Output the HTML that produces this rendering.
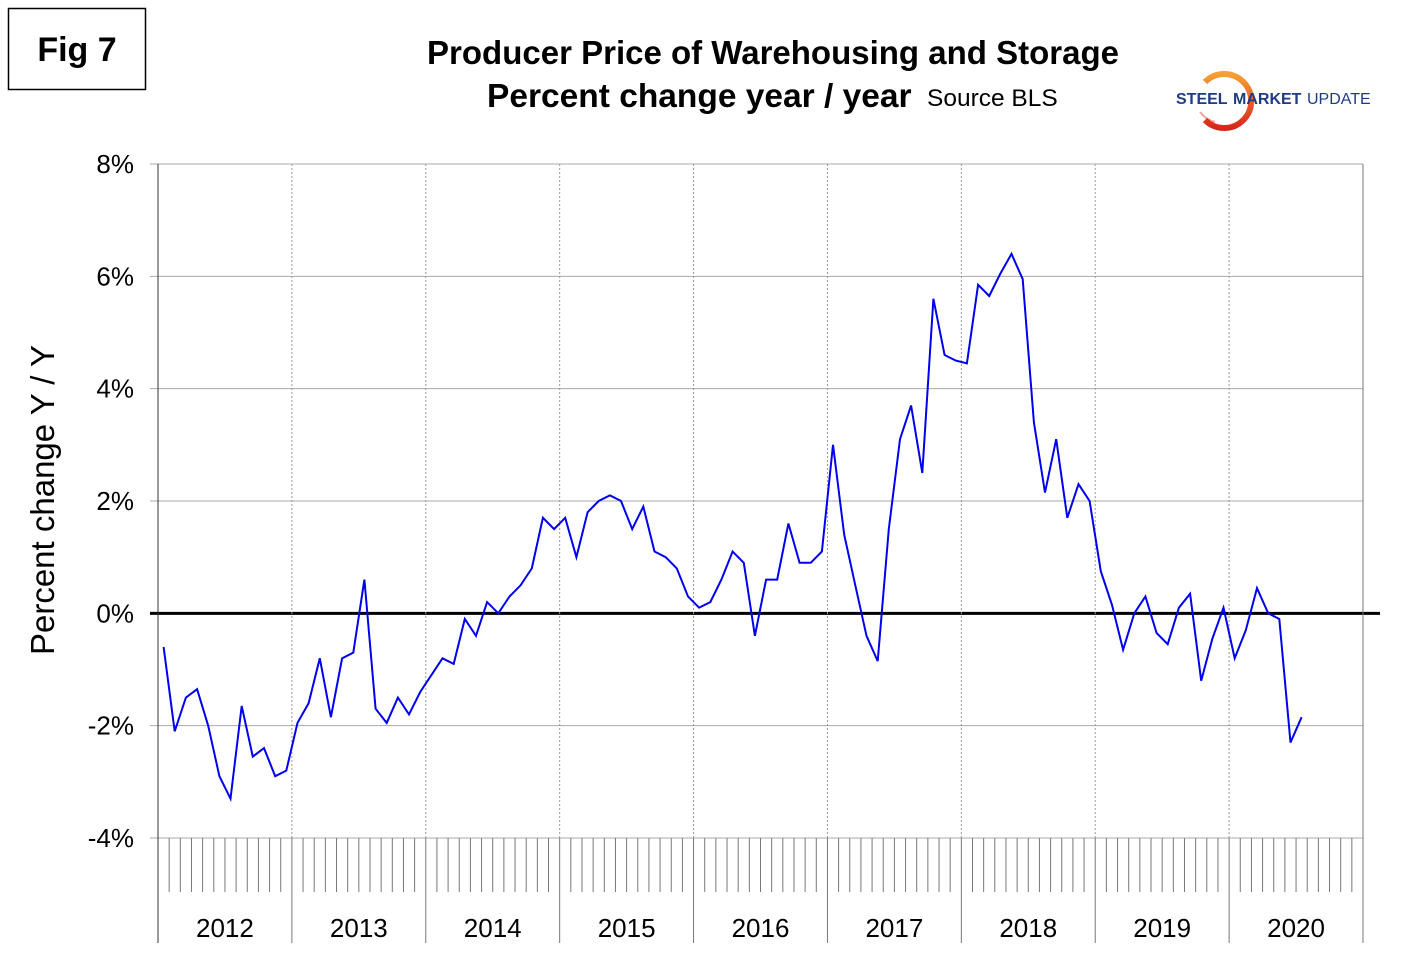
<!DOCTYPE html>
<html><head><meta charset="utf-8"><style>
body{margin:0;background:#fff;width:1420px;height:973px;overflow:hidden;font-family:"Liberation Sans",Arial,sans-serif}
svg text{font-family:"Liberation Sans",Arial,sans-serif}
</style></head><body>
<svg id="chart" width="1420" height="973" xmlns="http://www.w3.org/2000/svg">
<defs><linearGradient id="arc" x1="0" y1="0" x2="0" y2="1"><stop offset="0" stop-color="#f7a035"/><stop offset="1" stop-color="#d9261c"/></linearGradient></defs>
<rect x="8.5" y="8.5" width="137" height="81" fill="#fff" stroke="#000" stroke-width="1.5"/>
<text x="77" y="61" font-size="34" font-weight="bold" text-anchor="middle">Fig 7</text>
<text x="773" y="64" font-size="33" font-weight="bold" text-anchor="middle">Producer Price of Warehousing and Storage</text>
<text x="487" y="107" font-size="33.5" font-weight="bold">Percent change year / year</text>
<text x="927" y="106" font-size="24.5">Source BLS</text>
<g>
<path d="M1205 82 A27 27 0 1 1 1205 120" fill="none" stroke="url(#arc)" stroke-width="6"/>
<path d="M1215 122 A27 27 0 0 1 1200 112" fill="none" stroke="#d9261c" stroke-width="2" opacity="0.4"/>
<text x="1176" y="104" font-size="16" font-weight="bold" fill="#1f3b84">STEEL</text>
<text x="1233" y="104" font-size="16" font-weight="bold" fill="#1f3b84">MARKET</text>
<text x="1307" y="104" font-size="16" fill="#1f3b84">UPDATE</text>
</g>
<text transform="translate(54,500) rotate(-90)" font-size="33" text-anchor="middle">Percent change Y / Y</text>
<g id="grid"></g><g id="axes"></g><path id="line" fill="none" stroke="#0000ee" stroke-width="2"/>
</svg>
<script>
const years=['2012','2013','2014','2015','2016','2017','2018','2019','2020'];
const yTicks=[8,6,4,2,0,-2,-4];
const yTickLabels=['8%','6%','4%','2%','0%','-2%','-4%'];
const values=[-0.6,-2.1,-1.5,-1.35,-2.0,-2.9,-3.3,-1.65,-2.55,-2.4,-2.9,-2.8,
-1.95,-1.6,-0.8,-1.85,-0.8,-0.7,0.6,-1.7,-1.95,-1.5,-1.8,-1.4,
-1.1,-0.8,-0.9,-0.1,-0.4,0.2,0.0,0.3,0.5,0.8,1.7,1.5,
1.7,1.0,1.8,2.0,2.1,2.0,1.5,1.9,1.1,1.0,0.8,0.3,
0.1,0.2,0.6,1.1,0.9,-0.4,0.6,0.6,1.6,0.9,0.9,1.1,
3.0,1.4,0.5,-0.4,-0.85,1.5,3.1,3.7,2.5,5.6,4.6,4.5,
4.45,5.85,5.65,6.05,6.4,5.95,3.4,2.15,3.1,1.7,2.3,2.0,
0.75,0.15,-0.65,0.0,0.3,-0.35,-0.55,0.1,0.35,-1.2,-0.45,0.1,
-0.8,-0.3,0.45,0.0,-0.1,-2.3,-1.85];
const X0=158,X1=1363,Y8=164,Ym4=838;
const mw=(X1-X0)/(years.length*12);
const x=i=>X0+mw*(i+0.5);
const y=v=>Y8+(8-v)*(Ym4-Y8)/12;
const NS='http://www.w3.org/2000/svg';
function mk(parent,tag,attrs){const e=document.createElementNS(NS,tag);for(const k in attrs)e.setAttribute(k,attrs[k]);parent.appendChild(e);return e;}
const g=document.getElementById('grid'),a=document.getElementById('axes');
yTicks.forEach((t,k)=>{
  const l=mk(g,'line',{x1:150,x2:t===0?1380:X1,y1:y(t),y2:y(t),stroke:t===0?'#000':'#aaa','stroke-width':t===0?3:1});
  
  
  const tx=mk(a,'text',{x:134,y:y(t)+9,'font-size':26,'text-anchor':'end'});tx.textContent=yTickLabels[k];
  
  
});
for(let j=0;j<=years.length;j++){
  const xx=X0+j*mw*12;
  if(j>0&&j<years.length){const d=mk(g,'line',{x1:xx,x2:xx,y1:Y8,y2:Ym4,stroke:'#999','stroke-dasharray':'2,2'});
  
  }
  const s=mk(a,'line',{x1:xx,x2:xx,y1:j===0||j===years.length?Y8:Ym4,y2:943,stroke:j===0?'#333':'#777','stroke-width':1});
  
  
  if(j<years.length){const tx=mk(a,'text',{x:xx+mw*6,y:937,'font-size':26,'text-anchor':'middle'});tx.textContent=years[j];
  
  }
}
for(let m=1;m<years.length*12;m++){if(m%12===0)continue;const xx=X0+m*mw;
  const t=mk(a,'line',{x1:xx,x2:xx,y1:Ym4,y2:892,stroke:'#777'});
  
  }
document.getElementById('line').setAttribute('d',values.map((v,i)=>(i?'L':'M')+x(i).toFixed(1)+' '+y(v).toFixed(1)).join(''));
</script>
</body></html>
